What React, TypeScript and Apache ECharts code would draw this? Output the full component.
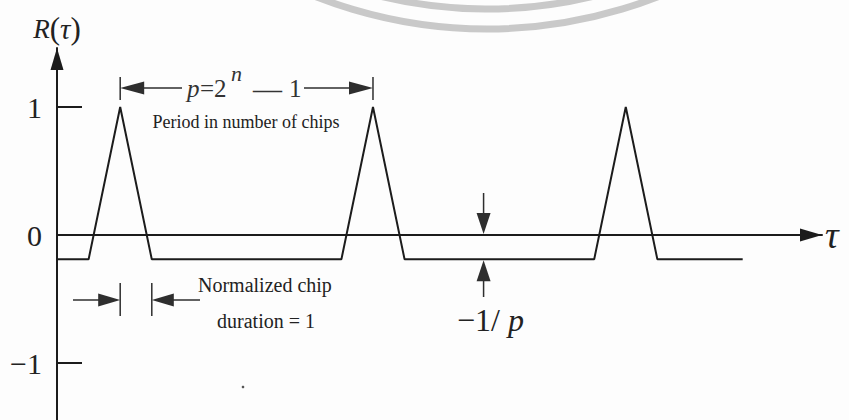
import { useEffect, useRef } from "react";
import * as echarts from "echarts";

// Periodic autocorrelation of a maximal-length PN sequence (τ in chips)
const tau = [0, 1, 2, 3, 9, 10, 11, 17, 18, 19, 21.7];
const rValues = [-0.19, -0.19, 1, -0.19, -0.19, 1, -0.19, -0.19, 1, -0.19, -0.19];

// y-axis ticks and their labels
const yTicks = [-1, 0, 1];
const yTickLabels = ["−1", "0", "1"];

// annotation anchors, in data units
const periodSpan = [2, 10];
const chipSpan = [2, 3];
const offPeakLevel = -0.19;
const offPeakMarkerTau = 13.5;

const SERIF = "'Liberation Serif', 'Times New Roman', serif";
const INK = "#1c1c1c";
const ARROW = "#2e2e2e";
const TEXT = "#222222";

function arrowHead(tipX: number, tipY: number, dir: "left" | "right" | "up" | "down", len = 22, half = 6.5) {
  let pts: number[][];
  if (dir === "left") pts = [[tipX, tipY], [tipX + len, tipY - half], [tipX + len, tipY + half]];
  else if (dir === "right") pts = [[tipX, tipY], [tipX - len, tipY - half], [tipX - len, tipY + half]];
  else if (dir === "up") pts = [[tipX, tipY], [tipX - half, tipY + len], [tipX + half, tipY + len]];
  else pts = [[tipX, tipY], [tipX - half, tipY - len], [tipX + half, tipY - len]];
  return { type: "polygon", shape: { points: pts }, style: { fill: ARROW }, silent: true, z: 20 };
}

function seg(x1: number, y1: number, x2: number, y2: number, w = 1.5) {
  return { type: "line", shape: { x1, y1, x2, y2 }, style: { stroke: ARROW, lineWidth: w }, silent: true, z: 20 };
}

function label(text: string, x: number, y: number, size: number, align = "center", italic = false, fill = TEXT) {
  return {
    type: "text",
    x,
    y,
    silent: true,
    z: 20,
    style: {
      text,
      fill,
      font: `${italic ? "italic " : ""}${size}px ${SERIF}`,
      align,
      verticalAlign: "middle",
    },
  };
}

export default function App() {
  const ref = useRef<HTMLDivElement>(null);

  useEffect(() => {
    const chart = echarts.init(ref.current!, null, { renderer: "svg" });

    chart.setOption({
      animation: false,
      backgroundColor: "#fdfdfd",
      grid: { left: 57, right: 27, top: 48, bottom: 0, containLabel: false, outerBoundsMode: "none" },
      xAxis: {
        type: "value",
        min: 0,
        max: 24.21,
        axisLine: {
          onZero: true,
          lineStyle: { color: INK, width: 2 },
          symbol: ["none", "triangle"],
          symbolSize: [13, 22],
          symbolOffset: [0, -11],
        },
        axisTick: { show: false },
        axisLabel: { show: false },
        splitLine: { show: false },
        name: "τ",
        nameLocation: "end",
        nameGap: 3,
        nameTextStyle: { fontFamily: SERIF, fontStyle: "italic", fontSize: 38, color: TEXT, align: "left", verticalAlign: "middle" },
      },
      yAxis: {
        type: "value",
        min: -1.445,
        max: 1.461,
        axisLine: {
          lineStyle: { color: INK, width: 2 },
          symbol: ["none", "triangle"],
          symbolSize: [13, 22],
          symbolOffset: [0, -11],
        },
        axisTick: {
          show: true,
          inside: true,
          length: 25,
          customValues: yTicks,
          lineStyle: { color: INK, width: 2 },
        },
        axisLabel: {
          customValues: yTicks,
          formatter: (v: number) => yTickLabels[yTicks.indexOf(v)] ?? "",
          fontFamily: SERIF,
          fontSize: 30,
          color: TEXT,
          margin: 15,
        },
        splitLine: { show: false },
        name: "{i|R}{n|(}{t|τ}{n|)}",
        nameLocation: "end",
        nameGap: 4,
        nameTextStyle: {
          rich: {
            i: { fontFamily: SERIF, fontStyle: "italic", fontSize: 27, color: TEXT },
            t: { fontFamily: SERIF, fontStyle: "italic", fontSize: 29, color: TEXT },
            n: { fontFamily: SERIF, fontSize: 31, color: TEXT },
          },
        },
      },
      series: [
        {
          type: "line",
          data: tau.map((t, i) => [t, rValues[i]]),
          symbol: "none",
          lineStyle: { color: INK, width: 2 },
          z: 3,
        },
      ],
    });

    const px = (t: number, r: number) => chart.convertToPixel({ gridIndex: 0 }, [t, r]) as number[];

    // period bracket
    const xa = px(periodSpan[0], 0)[0];
    const xb = px(periodSpan[1], 0)[0];
    const yP = 88;
    // chip-duration bracket
    const xc1 = px(chipSpan[0], 0)[0];
    const xc2 = px(chipSpan[1], 0)[0];
    const yC = 300;
    // −1/p markers
    const [xm, y0] = px(offPeakMarkerTau, 0);
    const yb = px(offPeakMarkerTau, offPeakLevel)[1];

    const graphics: any[] = [
      // faint ring from the printed page
      {
        type: "arc",
        silent: true,
        z: 0,
        shape: { cx: 487, cy: -440, r: 469, startAngle: 1.0, endAngle: 2.14, clockwise: true },
        style: { stroke: "#c9c9c9", lineWidth: 7, fill: "none" },
      },
      {
        type: "arc",
        silent: true,
        z: 0,
        shape: { cx: 487, cy: -440, r: 449, startAngle: 1.2, endAngle: 1.95, clockwise: true },
        style: { stroke: "#c9c9c9", lineWidth: 7, fill: "none" },
      },
      { type: "circle", silent: true, shape: { cx: 243, cy: 387, r: 1.3 }, style: { fill: "#555" } },

      // p = 2^n − 1 bracket
      seg(xa, 77, xa, 100),
      seg(xb, 77, xb, 100),
      arrowHead(xa, yP, "left", 24, 6.5),
      seg(xa + 20, yP, 182, yP),
      seg(304, yP, xb - 20, yP),
      arrowHead(xb, yP, "right", 24, 6.5),
      label("p", 187, yP, 25, "left", true, "#333"),
      label("=2", 200, yP, 25, "left", false, "#333"),
      label("n", 231, 73, 22, "left", true, "#333"),
      label("—", 253, yP + 1, 29, "left", false, "#333"),
      label("1", 289, yP, 25, "left", false, "#333"),
      label("Period in number of chips", 246, 122, 18),

      // normalized chip duration bracket
      seg(xc1, 283, xc1, 316),
      seg(xc2, 283, xc2, 316),
      seg(73, yC, xc1 - 18, yC),
      arrowHead(xc1, yC, "right", 22, 6.5),
      arrowHead(xc2, yC, "left", 22, 6.5),
      seg(xc2 + 18, yC, 200, yC),
      label("Normalized chip", 198, 285, 20, "left"),
      label("duration = 1", 266, 321, 20),

      // −1/p offset markers
      seg(xm, 193, xm, y0 - 18),
      arrowHead(xm, y0 - 1, "down", 21, 7),
      arrowHead(xm, yb + 1, "up", 21, 7),
      seg(xm, yb + 18, xm, 297),
      label("−1/", 457, 320, 32, "left"),
      label("p", 508, 320, 32, "left", true),
    ];

    chart.setOption({ graphic: graphics });

    return () => chart.dispose();
  }, []);

  return <div ref={ref} style={{ position: "fixed", left: 0, top: 0, width: 849, height: 420 }} />;
}
